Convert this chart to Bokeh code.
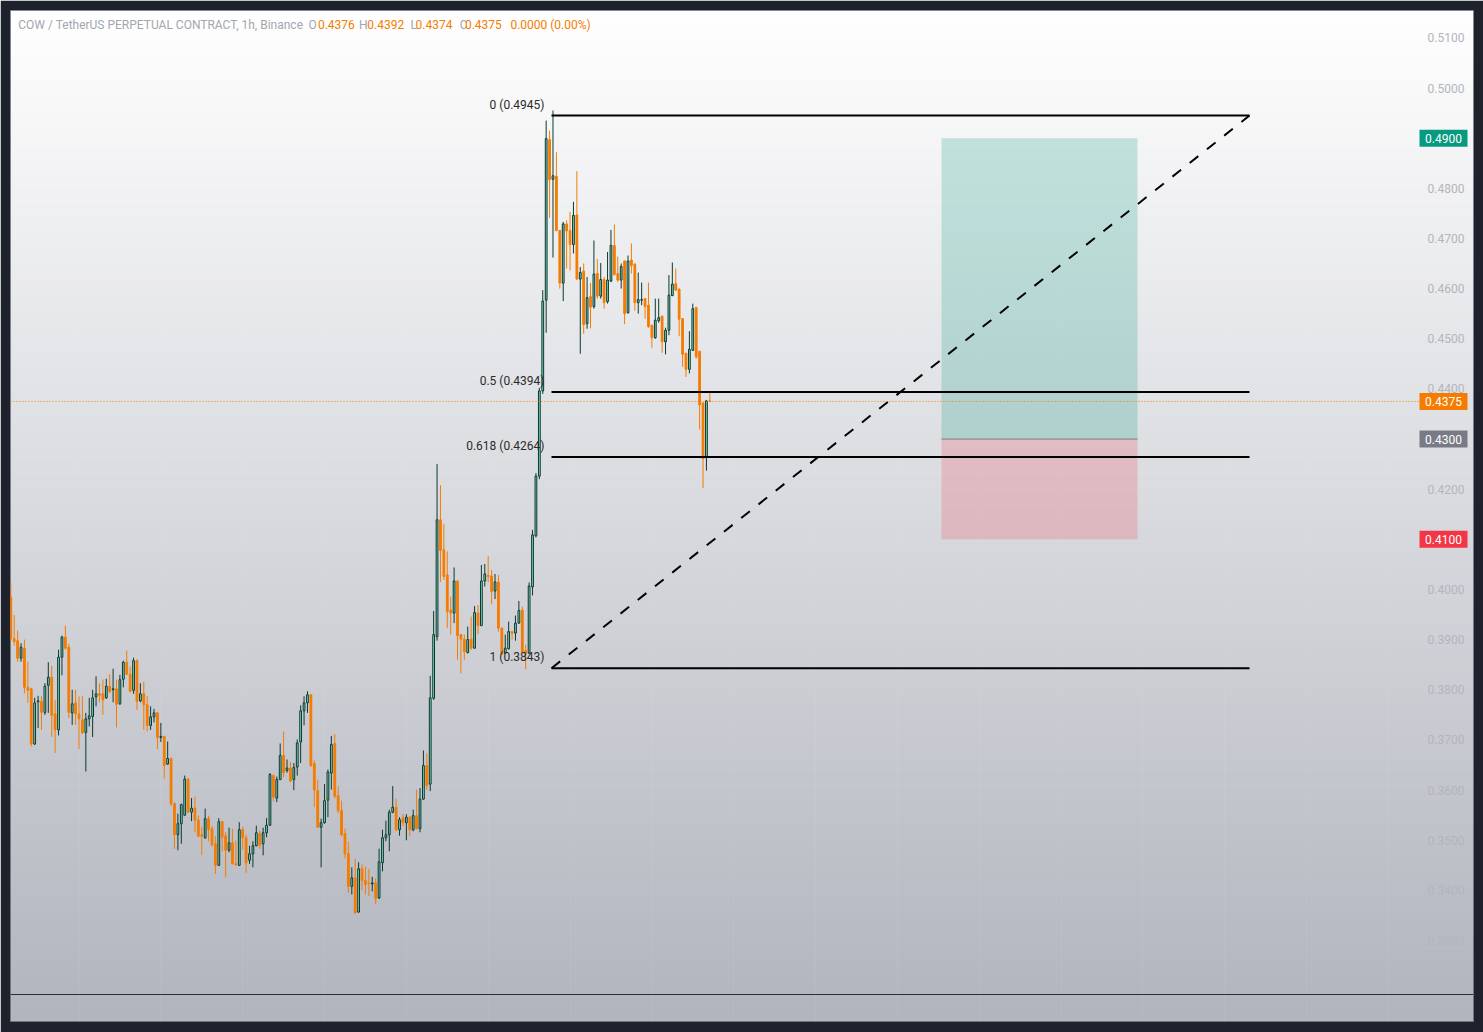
import numpy as np
from bokeh.plotting import figure
from bokeh.models import Range1d, LinearAxis, FixedTicker, NumeralTickFormatter, Grid
from bokeh.core.properties import value
from bokeh.embed import file_html
from bokeh.resources import INLINE

# ---------------------------------------------------------------- data
# hourly COW/USDT perpetual candles (open, high, low, close)
opens = [
    0.3985, 0.3902, 0.3898, 0.3863, 0.3883, 0.3805, 0.3802, 0.3692, 0.3776, 0.3777,
    0.3755, 0.3809, 0.3825, 0.3752, 0.3720, 0.3865, 0.3905, 0.3885, 0.3754, 0.3774,
    0.3752, 0.3740, 0.3715, 0.3742, 0.3747, 0.3786, 0.3792, 0.3792, 0.3784, 0.3807,
    0.3800, 0.3802, 0.3772, 0.3821, 0.3855, 0.3831, 0.3799, 0.3858, 0.3778, 0.3792,
    0.3770, 0.3729, 0.3746, 0.3754, 0.3705, 0.3707, 0.3652, 0.3663, 0.3573, 0.3511,
    0.3533, 0.3550, 0.3622, 0.3556, 0.3564, 0.3540, 0.3511, 0.3505, 0.3543, 0.3523,
    0.3493, 0.3450, 0.3537, 0.3509, 0.3480, 0.3495, 0.3453, 0.3450, 0.3521, 0.3505,
    0.3460, 0.3473, 0.3489, 0.3513, 0.3493, 0.3515, 0.3530, 0.3629, 0.3584, 0.3621,
    0.3669, 0.3639, 0.3644, 0.3621, 0.3646, 0.3696, 0.3758, 0.3774, 0.3790, 0.3653,
    0.3599, 0.3526, 0.3535, 0.3580, 0.3634, 0.3693, 0.3589, 0.3559, 0.3513, 0.3473,
    0.3408, 0.3425, 0.3357, 0.3443, 0.3420, 0.3414, 0.3413, 0.3415, 0.3385, 0.3455,
    0.3505, 0.3511, 0.3556, 0.3566, 0.3521, 0.3545, 0.3535, 0.3546, 0.3521, 0.3549,
    0.3523, 0.3582, 0.3649, 0.3612, 0.3783, 0.3906, 0.4139, 0.4079, 0.4029, 0.3959,
    0.3953, 0.4017, 0.3910, 0.3901, 0.3874, 0.3901, 0.3883, 0.3953, 0.3928, 0.4017,
    0.4028, 0.4027, 0.3997, 0.4015, 0.3923, 0.3873, 0.3882, 0.3916, 0.3913, 0.3933,
    0.3959, 0.3878, 0.3873, 0.4005, 0.4107, 0.4226, 0.4396, 0.4577, 0.4897, 0.4818,
    0.4824, 0.4716, 0.4611, 0.4729, 0.4716, 0.4688, 0.4747, 0.4619, 0.4635, 0.4530,
    0.4584, 0.4564, 0.4630, 0.4585, 0.4618, 0.4574, 0.4615, 0.4686, 0.4630, 0.4617,
    0.4655, 0.4552, 0.4657, 0.4649, 0.4572, 0.4577, 0.4580, 0.4567, 0.4527, 0.4502,
    0.4536, 0.4545, 0.4494, 0.4517, 0.4586, 0.4610, 0.4599, 0.4540, 0.4471, 0.4439,
    0.4477, 0.4562, 0.4475, 0.4372, 0.4263, 0.4376,
]
highs = [
    0.4013, 0.3949, 0.3918, 0.3893, 0.3900, 0.3856, 0.3804, 0.3784, 0.3788, 0.3787,
    0.3813, 0.3855, 0.3848, 0.3780, 0.3880, 0.3908, 0.3928, 0.3892, 0.3800, 0.3800,
    0.3787, 0.3787, 0.3754, 0.3784, 0.3800, 0.3827, 0.3813, 0.3820, 0.3822, 0.3831,
    0.3842, 0.3820, 0.3830, 0.3858, 0.3878, 0.3846, 0.3864, 0.3861, 0.3813, 0.3816,
    0.3787, 0.3767, 0.3762, 0.3756, 0.3734, 0.3708, 0.3697, 0.3665, 0.3575, 0.3553,
    0.3573, 0.3629, 0.3624, 0.3584, 0.3587, 0.3549, 0.3527, 0.3563, 0.3549, 0.3528,
    0.3508, 0.3544, 0.3538, 0.3516, 0.3525, 0.3523, 0.3499, 0.3536, 0.3527, 0.3511,
    0.3489, 0.3498, 0.3529, 0.3519, 0.3525, 0.3544, 0.3634, 0.3631, 0.3627, 0.3693,
    0.3717, 0.3661, 0.3656, 0.3654, 0.3701, 0.3769, 0.3787, 0.3797, 0.3791, 0.3659,
    0.3621, 0.3543, 0.3612, 0.3641, 0.3708, 0.3712, 0.3608, 0.3579, 0.3523, 0.3497,
    0.3446, 0.3463, 0.3456, 0.3452, 0.3447, 0.3443, 0.3427, 0.3424, 0.3483, 0.3521,
    0.3539, 0.3561, 0.3608, 0.3583, 0.3546, 0.3552, 0.3552, 0.3548, 0.3561, 0.3601,
    0.3604, 0.3679, 0.3673, 0.3828, 0.3957, 0.4250, 0.4208, 0.4131, 0.4076, 0.3986,
    0.4044, 0.4018, 0.3911, 0.3910, 0.3926, 0.3946, 0.3967, 0.3969, 0.4049, 0.4051,
    0.4067, 0.4039, 0.4031, 0.4029, 0.3924, 0.3910, 0.3936, 0.3917, 0.3948, 0.3977,
    0.3966, 0.3890, 0.4014, 0.4119, 0.4232, 0.4402, 0.4597, 0.4935, 0.4915, 0.4955,
    0.4872, 0.4717, 0.4733, 0.4736, 0.4753, 0.4773, 0.4834, 0.4643, 0.4650, 0.4623,
    0.4611, 0.4696, 0.4659, 0.4651, 0.4623, 0.4673, 0.4717, 0.4728, 0.4664, 0.4650,
    0.4656, 0.4666, 0.4690, 0.4650, 0.4632, 0.4612, 0.4581, 0.4612, 0.4528, 0.4580,
    0.4580, 0.4546, 0.4522, 0.4627, 0.4652, 0.4640, 0.4600, 0.4541, 0.4472, 0.4515,
    0.4570, 0.4564, 0.4476, 0.4373, 0.4378, 0.4392,
]
lows = [
    0.3898, 0.3888, 0.3856, 0.3856, 0.3793, 0.3774, 0.3687, 0.3690, 0.3724, 0.3720,
    0.3750, 0.3754, 0.3706, 0.3674, 0.3709, 0.3829, 0.3880, 0.3744, 0.3730, 0.3730,
    0.3682, 0.3712, 0.3637, 0.3727, 0.3706, 0.3767, 0.3775, 0.3750, 0.3782, 0.3794,
    0.3775, 0.3725, 0.3770, 0.3805, 0.3829, 0.3795, 0.3792, 0.3760, 0.3775, 0.3720,
    0.3717, 0.3720, 0.3735, 0.3682, 0.3696, 0.3623, 0.3650, 0.3568, 0.3483, 0.3480,
    0.3493, 0.3549, 0.3555, 0.3538, 0.3516, 0.3507, 0.3471, 0.3503, 0.3498, 0.3488,
    0.3433, 0.3449, 0.3478, 0.3426, 0.3476, 0.3452, 0.3449, 0.3449, 0.3481, 0.3435,
    0.3453, 0.3446, 0.3488, 0.3483, 0.3470, 0.3506, 0.3529, 0.3578, 0.3576, 0.3620,
    0.3626, 0.3635, 0.3616, 0.3600, 0.3629, 0.3654, 0.3729, 0.3754, 0.3646, 0.3566,
    0.3525, 0.3446, 0.3533, 0.3546, 0.3601, 0.3583, 0.3554, 0.3508, 0.3464, 0.3395,
    0.3392, 0.3354, 0.3355, 0.3400, 0.3392, 0.3389, 0.3398, 0.3373, 0.3383, 0.3438,
    0.3498, 0.3478, 0.3554, 0.3518, 0.3509, 0.3528, 0.3500, 0.3508, 0.3518, 0.3522,
    0.3516, 0.3581, 0.3600, 0.3598, 0.3780, 0.3898, 0.4015, 0.4019, 0.3923, 0.3910,
    0.3933, 0.3860, 0.3833, 0.3860, 0.3873, 0.3880, 0.3882, 0.3911, 0.3927, 0.4006,
    0.4014, 0.3971, 0.3981, 0.3916, 0.3870, 0.3872, 0.3880, 0.3900, 0.3898, 0.3932,
    0.3874, 0.3841, 0.3872, 0.3988, 0.4104, 0.4220, 0.4390, 0.4512, 0.4741, 0.4662,
    0.4714, 0.4600, 0.4575, 0.4640, 0.4636, 0.4670, 0.4618, 0.4470, 0.4510, 0.4520,
    0.4521, 0.4560, 0.4580, 0.4580, 0.4560, 0.4570, 0.4613, 0.4626, 0.4613, 0.4600,
    0.4529, 0.4550, 0.4630, 0.4556, 0.4550, 0.4567, 0.4540, 0.4522, 0.4482, 0.4500,
    0.4532, 0.4472, 0.4469, 0.4507, 0.4585, 0.4595, 0.4505, 0.4444, 0.4424, 0.4431,
    0.4476, 0.4460, 0.4319, 0.4202, 0.4237, 0.4374,
]
closes = [
    0.3902, 0.3896, 0.3863, 0.3885, 0.3805, 0.3799, 0.3692, 0.3774, 0.3778, 0.3755,
    0.3807, 0.3825, 0.3749, 0.3720, 0.3865, 0.3905, 0.3883, 0.3755, 0.3772, 0.3752,
    0.3742, 0.3714, 0.3742, 0.3748, 0.3784, 0.3792, 0.3789, 0.3780, 0.3807, 0.3796,
    0.3802, 0.3771, 0.3820, 0.3855, 0.3831, 0.3797, 0.3858, 0.3777, 0.3792, 0.3770,
    0.3729, 0.3746, 0.3754, 0.3705, 0.3707, 0.3649, 0.3663, 0.3573, 0.3511, 0.3533,
    0.3571, 0.3622, 0.3556, 0.3564, 0.3540, 0.3508, 0.3508, 0.3543, 0.3521, 0.3491,
    0.3450, 0.3537, 0.3506, 0.3480, 0.3495, 0.3453, 0.3451, 0.3521, 0.3505, 0.3455,
    0.3473, 0.3489, 0.3515, 0.3490, 0.3515, 0.3530, 0.3631, 0.3586, 0.3621, 0.3669,
    0.3635, 0.3644, 0.3618, 0.3645, 0.3694, 0.3758, 0.3774, 0.3790, 0.3649, 0.3600,
    0.3526, 0.3535, 0.3579, 0.3636, 0.3691, 0.3588, 0.3559, 0.3511, 0.3473, 0.3408,
    0.3425, 0.3355, 0.3443, 0.3420, 0.3412, 0.3413, 0.3415, 0.3384, 0.3457, 0.3505,
    0.3511, 0.3556, 0.3566, 0.3521, 0.3541, 0.3535, 0.3546, 0.3521, 0.3549, 0.3523,
    0.3582, 0.3649, 0.3609, 0.3784, 0.3910, 0.4139, 0.4078, 0.4026, 0.3956, 0.3953,
    0.4017, 0.3908, 0.3901, 0.3876, 0.3900, 0.3883, 0.3954, 0.3928, 0.4017, 0.4031,
    0.4026, 0.3996, 0.4015, 0.3923, 0.3871, 0.3883, 0.3916, 0.3913, 0.3933, 0.3958,
    0.3875, 0.3872, 0.4007, 0.4109, 0.4226, 0.4396, 0.4575, 0.4899, 0.4817, 0.4825,
    0.4716, 0.4611, 0.4729, 0.4715, 0.4688, 0.4746, 0.4619, 0.4632, 0.4528, 0.4582,
    0.4563, 0.4629, 0.4585, 0.4618, 0.4572, 0.4617, 0.4686, 0.4628, 0.4617, 0.4644,
    0.4550, 0.4655, 0.4646, 0.4572, 0.4578, 0.4578, 0.4564, 0.4524, 0.4502, 0.4537,
    0.4542, 0.4494, 0.4517, 0.4587, 0.4609, 0.4597, 0.4539, 0.4469, 0.4439, 0.4479,
    0.4560, 0.4464, 0.4368, 0.4261, 0.4376, 0.4375,
]

title = "COW / TetherUS PERPETUAL CONTRACT, 1h, Binance"
change_text = "0.0000 (0.00%)"

price_ticks = [0.33, 0.34, 0.35, 0.36, 0.37, 0.38, 0.39, 0.40, 0.41, 0.42,
               0.43, 0.44, 0.45, 0.46, 0.47, 0.48, 0.49, 0.50, 0.51]

# Fibonacci retracement drawn from the swing low to the swing high
fib_low = 0.3843
fib_high = 0.4945
fib_ratios = [0, 0.5, 0.618, 1]

# long position: entry, take profit, stop loss
entry_price = 0.43
target_price = 0.49
stop_price = 0.41

# ---------------------------------------------------------------- geometry
W, H = 1483, 1032
PAD = 10
BAR_PX = 3.41            # horizontal pixels per hourly bar
PRICE_PX = 5015.0        # vertical pixels per 1.0 of price
frame_w = W - 2 * PAD
frame_h = H - 2 * PAD - 1

x_start = -0.3 / BAR_PX
x_end = x_start + frame_w / BAR_PX
y_top = 0.5 + 77.5 / PRICE_PX
y_bottom = y_top - frame_h / PRICE_PX


def fx(px):
    """canvas pixel column -> bar index"""
    return x_start + (px - PAD) / BAR_PX


def fy(py):
    """canvas pixel row -> price"""
    return y_top - (py - PAD) / PRICE_PX


UP_FILL = "#7fd6be"
UP_LINE = "#0b3a2f"
DOWN = "#f57c00"
FONT_NAME = "Roboto"
FONT = value(FONT_NAME)

p = figure(width=W, height=H, output_backend="svg", toolbar_location=None,
           x_range=Range1d(x_start, x_end), y_range=Range1d(y_bottom, y_top),
           x_axis_location=None, y_axis_location=None,
           min_border_left=PAD, min_border_right=PAD,
           min_border_top=PAD, min_border_bottom=H - PAD - frame_h,
           border_fill_color="#1e222d", background_fill_color="#ffffff",
           outline_line_color="#5d606b", outline_line_width=1)
p.grid.grid_line_color = None

# vertical background gradient
n = 256
t = np.linspace(0.0, 1.0, n)[:, None]
bottom_rgb = np.array([178, 181, 190])
top_rgb = np.array([255, 255, 255])
rgb = (bottom_rgb + (top_rgb - bottom_rgb) * t).astype(np.uint32)
img = np.empty((n, 1), dtype=np.uint32)
view = img.view(dtype=np.uint8).reshape((n, 1, 4))
view[:, :, 0] = rgb[:, 0:1]
view[:, :, 1] = rgb[:, 1:2]
view[:, :, 2] = rgb[:, 2:3]
view[:, :, 3] = 255
p.image_rgba(image=[img], x=x_start, y=y_bottom, dw=x_end - x_start,
             dh=y_top - y_bottom, level="image")

# time axis (no labels) with daily grid lines
day_ticks = [20 + 24 * k for k in range(17)]
time_axis = LinearAxis(fixed_location=fy(994), ticker=FixedTicker(ticks=day_ticks),
                       major_label_text_color=None, major_tick_in=0, major_tick_out=0,
                       minor_tick_in=0, minor_tick_out=0,
                       axis_line_color="#2a2e39", axis_line_width=1)
p.add_layout(time_axis, "below")
p.add_layout(Grid(dimension=0, ticker=time_axis.ticker,
                  grid_line_color="#ffffff", grid_line_alpha=0.06))

# price scale
price_axis = LinearAxis(fixed_location=fx(1418), ticker=FixedTicker(ticks=price_ticks),
                        formatter=NumeralTickFormatter(format="0.0000"),
                        major_label_text_color="#b2b5be",
                        major_label_text_font=FONT_NAME,
                        major_label_text_font_size="12px",
                        major_label_standoff=9,
                        major_tick_in=0, major_tick_out=0,
                        minor_tick_in=0, minor_tick_out=0,
                        axis_line_color=None)
p.add_layout(price_axis, "right")

# long position tool
pos_left, pos_right = fx(941), fx(1137)
p.quad(left=[pos_left], right=[pos_right], bottom=[entry_price], top=[target_price],
       fill_color="#089981", fill_alpha=0.22, line_color=None)
p.quad(left=[pos_left], right=[pos_right], bottom=[stop_price], top=[entry_price],
       fill_color="#f23645", fill_alpha=0.2, line_color=None)
p.segment(x0=[pos_left], x1=[pos_right], y0=[entry_price], y1=[entry_price],
          line_color="#787b86", line_width=1)

# candles
idx = list(range(len(closes)))
up = [c >= o for o, c in zip(opens, closes)]
wick_col = [UP_LINE if u else DOWN for u in up]
fill_col = [UP_FILL if u else DOWN for u in up]
p.segment(x0=idx, x1=idx, y0=lows, y1=highs, line_color=wick_col, line_width=1)
p.vbar(x=idx, width=0.52,
       bottom=[min(o, c) for o, c in zip(opens, closes)],
       top=[max(o, c) for o, c in zip(opens, closes)],
       fill_color=fill_col, line_color=wick_col, line_width=1)

# Fibonacci retracement
fib_x0, fib_x1 = fx(551), fx(1249)
fib_levels = [fib_high - r * (fib_high - fib_low) for r in fib_ratios]
p.segment(x0=[fib_x0] * 4, x1=[fib_x1] * 4, y0=fib_levels, y1=fib_levels,
          line_color="#000000", line_width=2)
p.segment(x0=[fib_x0], x1=[fib_x1], y0=[fib_low], y1=[fib_high],
          line_color="#000000", line_width=2, line_dash="11 11")
p.text(x=[fib_x0] * 4, y=fib_levels,
       text=[f"{r:g} ({lv:.4f})" for r, lv in zip(fib_ratios, fib_levels)],
       text_align="right", text_baseline="bottom", x_offset=-7, y_offset=-4,
       text_font=FONT, text_font_size="12px", text_color="#2b2b2b")

# last price line
last = closes[-1]
p.segment(x0=[x_start], x1=[fx(1418)], y0=[last], y1=[last],
          line_color=DOWN, line_width=1, line_dash="1 2")

# price tags on the scale
tag_prices = [target_price, last, entry_price, stop_price]
tag_colors = ["#089981", DOWN, "#787b86", "#f23645"]
half_h = 8.5 / PRICE_PX
tags = p.quad(left=[fx(1419)] * 4, right=[fx(1467)] * 4,
              bottom=[v - half_h for v in tag_prices],
              top=[v + half_h for v in tag_prices],
              fill_color=tag_colors, line_color=None)
tags.level = "overlay"
tag_text = p.text(x=[fx(1443)] * 4, y=tag_prices,
                  text=[f"{v:.4f}" for v in tag_prices],
                  text_align="center", text_baseline="middle",
                  text_font=FONT, text_font_size="12px", text_color="#ffffff")
tag_text.level = "overlay"

# legend line
hy = fy(24)
o, h, l, c = opens[-1], highs[-1], lows[-1], closes[-1]
header = [
    (17.8, title, "#a3a6af"),
    (307.9, "O", "#a3a6af"), (317.4, f"{o:.4f}", DOWN),
    (358.5, "H", "#a3a6af"), (366.8, f"{h:.4f}", DOWN),
    (409.9, "L", "#a3a6af"), (415.0, f"{l:.4f}", DOWN),
    (459.3, "C", "#a3a6af"), (464.4, f"{c:.4f}", DOWN),
    (509.9, change_text, DOWN),
]
p.text(x=[fx(px) for px, _, _ in header], y=[hy] * len(header),
       text=[s for _, s, _ in header], text_color=[col for _, _, col in header],
       text_align="left", text_baseline="middle",
       text_font=FONT, text_font_size="12px")

open("out.html", "w").write(file_html(p, INLINE))
